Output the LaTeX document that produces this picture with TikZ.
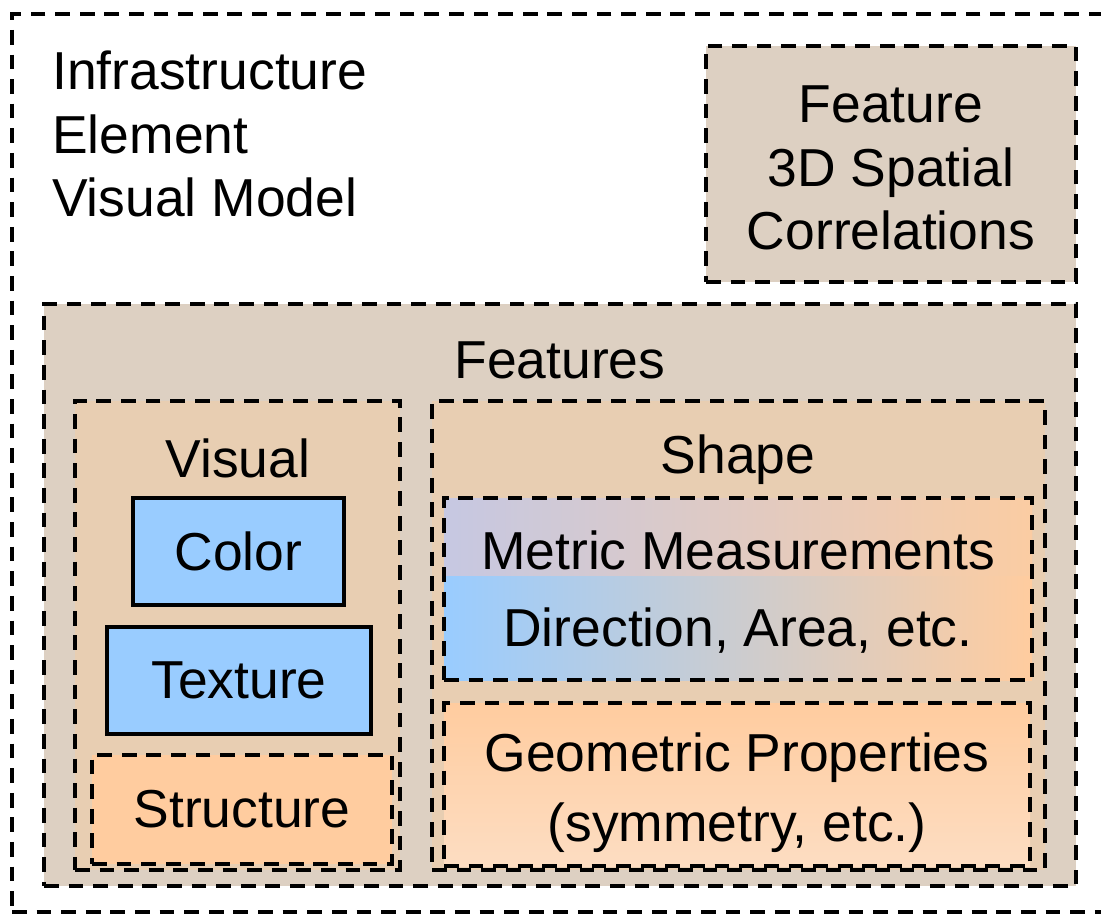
\documentclass[tikz,border=0pt]{standalone}
\usepackage{fontspec}
\setmainfont{Liberation Sans}
\usetikzlibrary{fit}

\definecolor{tanbg}{HTML}{DDD0C2}
\definecolor{peachbg}{HTML}{E8CEB2}
\definecolor{skyblue}{HTML}{99CCFF}
\definecolor{orangebox}{HTML}{FFCC9F}
\definecolor{orangelight}{HTML}{FDDDC2}
\definecolor{midgrey}{HTML}{D8C9C3}
\definecolor{lavender}{HTML}{C6C8E2}

\begin{document}
\begin{tikzpicture}[
        x=0.025cm, y=-0.025cm,
        dashbox/.style={
            draw,
            line width=2.8pt,
            dash pattern=on 10.5pt off 7pt,
            inner sep=0pt
        },
        solidbox/.style={
            draw,
            line width=2.2pt,
            fill=skyblue,
            inner sep=0pt
        },
        txt/.style={
            font=\fontsize{38}{45}\selectfont,
            align=center,
            inner sep=0pt
        }
    ]
        \clip (0,0) rectangle (1101,916);
        \fill[white] (0,0) rectangle (1101,916);

        \node[dashbox, fit={(12,14) (1130,912)}] (model) {};
        \node[
            txt,
            align=left,
            anchor=west
        ] (modeltitle) at (52,134) {
            Infrastructure\\
            Element\\
            Visual Model
        };

        \node[dashbox, fill=tanbg, fit={(706,46) (1076,282)}] (spatial) {};
        \node[txt] (spatialtext) at (891,168) {
            Feature\\
            3D Spatial\\
            Correlations
        };

        \node[dashbox, fill=tanbg, fit={(44,304) (1076,886)}] (features) {};
        \node[txt] (featurestitle) at (560,360) {Features};

        \node[dashbox, fill=peachbg, fit={(75,401) (400,870)}] (visual) {};
        \node[txt] (visualtitle) at (238,458) {Visual};

        \node[solidbox, fit={(133,498) (344,605)}] (color) {};
        \node[txt] (colortext) at (color) {Color};
        \node[solidbox, fit={(107,627) (371,734)}] (texture) {};
        \node[txt] (texturetext) at (texture) {Texture};
        \node[dashbox, fill=orangebox, fit={(92,755) (392,864)}] (structure) {};
        \node[txt] (structuretext) at (structure) {Structure};

        \node[dashbox, fill=peachbg, fit={(432,401) (1045,870)}] (shape) {};
        \node[txt] (shapetitle) at (738,460) {Shape};

        \node[
            dashbox,
            fit={(444,498) (1032,680)},
            path picture={
                \shade[left color=skyblue, middle color=midgrey, right color=orangebox]
                    (path picture bounding box.north west) rectangle
                    (path picture bounding box.south east);
                \shade[left color=lavender, middle color=midgrey!60!peachbg, right color=orangebox!80!peachbg]
                    (path picture bounding box.north west) rectangle
                    ([yshift=-55pt]path picture bounding box.north east);
            }
        ] (metric) {};
        \node[txt] (metrictext) at (738,592) {
            Metric Measurements\\[10pt]
            Direction, Area, etc.
        };

        \node[
            dashbox,
            top color=orangebox,
            bottom color=orangelight,
            fit={(444,703) (1030,866)}
        ] (geometric) {};
        \node[txt] (geometrictext) at (737,793) {
            Geometric Properties\\[5pt]
            (symmetry, etc.)
        };
    \end{tikzpicture}
\end{document}
